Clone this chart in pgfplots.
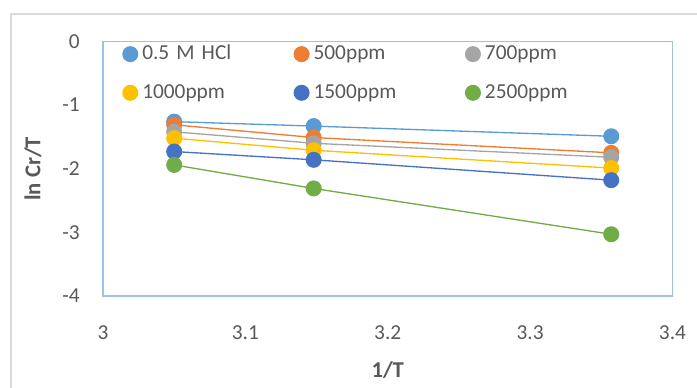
\documentclass[border=0pt]{standalone}
\usepackage{fontspec}
\setmainfont{Carlito}
\usepackage{pgfplots}
\pgfplotsset{compat=1.18}
\definecolor{c1}{HTML}{5B9BD5}
\definecolor{c2}{HTML}{ED7D31}
\definecolor{c3}{HTML}{A5A5A5}
\definecolor{c4}{HTML}{FFC000}
\definecolor{c5}{HTML}{4472C4}
\definecolor{c6}{HTML}{70AD47}
\definecolor{tgray}{HTML}{595959}
\definecolor{frameblue}{HTML}{9DC3E6}
\definecolor{outer}{HTML}{D9D9D9}
\begin{document}
\begin{tikzpicture}
\useasboundingbox (-77.25pt,-69pt) rectangle (445.5pt,222pt);
\draw[outer, line width=1.5pt] (-69pt,-80pt) -- (-69pt,211.5pt) -- (470pt,211.5pt);
\begin{axis}[
  scale only axis, width=427.1pt, height=190.9pt,
  xmin=3, xmax=3.4, ymin=-4, ymax=0,
  xtick={3,3.1,3.2,3.3,3.4}, xticklabels={3,3.1,3.2,3.3,3.4},
  ytick={-4,-3,-2,-1,0}, yticklabels={-4,-3,-2,-1,0},
  tick style={draw=none},
  axis line style={draw=frameblue, line width=1.1pt},
  ticklabel style={font=\fontsize{16}{19}\selectfont, text=tgray, inner sep=0pt},
  xticklabel style={anchor=center, yshift=-27.75pt},
  yticklabel style={anchor=east, xshift=-17.25pt},
  xlabel={1/T}, ylabel={ln Cr/T},
  xlabel style={at={(axis description cs:0.5,-0.2907)}, anchor=center, font=\fontsize{17}{20}\selectfont\bfseries, text=tgray, inner sep=0pt},
  ylabel style={at={(axis description cs:-0.1229,0.5)}, anchor=center, font=\fontsize{17}{20}\selectfont\bfseries, text=tgray, inner sep=0pt},
  legend columns=3,
  legend image code/.code={\draw[#1, draw=none, mark indices={2}] plot coordinates {(-6pt,0.3pt) (0pt,0.3pt) (9pt,0.3pt)};},
  legend style={at={(axis description cs:0.0334,0.9916)}, anchor=north west, draw=none, fill=none, inner sep=0pt, row sep=13pt,
    font=\fontsize{16}{19}\selectfont, text=tgray,
    nodes={inner sep=0pt, text height=12pt, text depth=4pt, text width=113.5pt, align=left}},
  every axis plot/.append style={line width=1pt, mark=*, mark size=5.5pt},
]
\addplot[color=c1, mark options={fill=c1, draw=c1}] coordinates {(3.05,-1.26) (3.148,-1.33) (3.357,-1.49)};
\addlegendentry{0.5 M HCl}
\addplot[color=c2, mark options={fill=c2, draw=c2}] coordinates {(3.05,-1.31) (3.148,-1.51) (3.357,-1.75)};
\addlegendentry{500ppm}
\addplot[color=c3, mark options={fill=c3, draw=c3}] coordinates {(3.05,-1.42) (3.148,-1.60) (3.357,-1.82)};
\addlegendentry{700ppm}
\addplot[color=c4, mark options={fill=c4, draw=c4}] coordinates {(3.05,-1.52) (3.148,-1.71) (3.357,-1.99)};
\addlegendentry{1000ppm}
\addplot[color=c5, mark options={fill=c5, draw=c5}] coordinates {(3.05,-1.73) (3.148,-1.86) (3.357,-2.18)};
\addlegendentry{1500ppm}
\addplot[color=c6, mark options={fill=c6, draw=c6}] coordinates {(3.05,-1.94) (3.148,-2.31) (3.357,-3.03)};
\addlegendentry{2500ppm}
\end{axis}
\end{tikzpicture}
\end{document}
